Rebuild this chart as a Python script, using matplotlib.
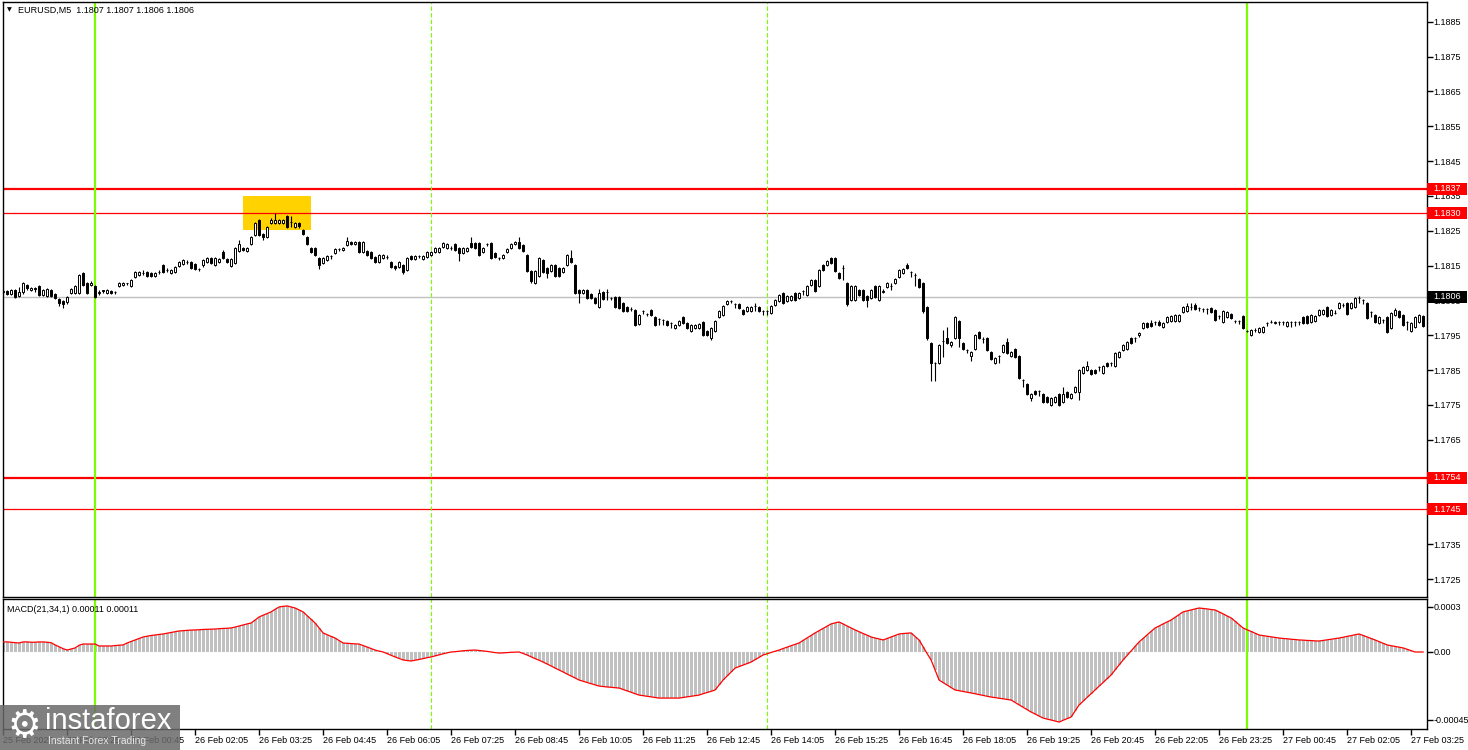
import numpy as np
import matplotlib.pyplot as plt
from matplotlib.patches import Rectangle
from matplotlib.transforms import blended_transform_factory

plt.rcParams['font.family'] = ['Liberation Sans', 'DejaVu Sans']

# EURUSD M5 candles, prices in points (1e-5) above 1.17000
base = 1.17
opens = [
    1074, 1077, 1068, 1080, 1062, 1074, 1094, 1080, 1085, 1091,
    1065, 1062, 1080, 1068, 1054, 1048, 1045, 1071, 1071, 1071,
    1129, 1100, 1094, 1091, 1071, 1080, 1071, 1077, 1074, 1091,
    1094, 1100, 1091, 1117, 1123, 1129, 1131, 1129, 1120, 1131,
    1152, 1137, 1129, 1131, 1149, 1155, 1160, 1160, 1155, 1140,
    1152, 1160, 1172, 1152, 1160, 1189, 1169, 1149, 1157, 1192,
    1200, 1192, 1212, 1238, 1281, 1241, 1232, 1272, 1272, 1272,
    1272, 1292, 1275, 1261, 1272, 1252, 1232, 1200, 1200, 1172,
    1157, 1166, 1177, 1186, 1198, 1195, 1209, 1218, 1212, 1218,
    1189, 1192, 1189, 1175, 1160, 1172, 1175, 1160, 1149, 1146,
    1152, 1137, 1177, 1169, 1177, 1169, 1175, 1180, 1189, 1189,
    1203, 1200, 1200, 1212, 1200, 1186, 1192, 1215, 1215, 1215,
    1189, 1212, 1215, 1186, 1172, 1172, 1189, 1200, 1212, 1218,
    1209, 1180, 1134, 1100, 1120, 1166, 1143, 1134, 1152, 1143,
    1131, 1152, 1172, 1152, 1080, 1071, 1080, 1068, 1057, 1031,
    1074, 1074, 1057, 1060, 1060, 1042, 1031, 1025, 1022, 982,
    1019, 1011, 1022, 1002, 997, 994, 991, 985, 971, 979,
    1002, 985, 962, 971, 971, 988, 962, 942, 962, 1002,
    1008, 1039, 1048, 1039, 1039, 1022, 1019, 1019, 1034, 1031,
    1019, 1019, 1014, 1037, 1048, 1071, 1048, 1051, 1071, 1057,
    1077, 1065, 1094, 1109, 1091, 1152, 1152, 1172, 1172, 1129,
    1143, 1100, 1051, 1051, 1080, 1080, 1062, 1057, 1091, 1051,
    1074, 1088, 1091, 1100, 1117, 1129, 1152, 1131, 1123, 1111,
    1100, 1031, 927, 870, 870, 933, 942, 922, 942, 991,
    927, 907, 890, 910, 959, 939, 942, 902, 870, 890,
    902, 930, 890, 910, 890, 821, 810, 769, 789, 789,
    781, 773, 749, 758, 781, 758, 787, 769, 787, 787,
    841, 850, 850, 850, 859, 841, 870, 870, 861, 887,
    907, 910, 942, 942, 951, 971, 985, 985, 988, 988,
    973, 988, 991, 991, 991, 1017, 1019, 1031, 1037, 1028,
    1025, 1025, 1028, 1022, 1005, 988, 1002, 1011, 991, 991,
    1005, 962, 951, 965, 959, 959, 985, 988, 985, 988,
    988, 976, 988, 988, 988, 1002, 1005, 988, 991, 1008,
    1011, 1031, 1008, 1014, 1028, 1037, 1042, 1028, 1031, 1057,
    1051, 1042, 1017, 1008, 985, 994, 1002, 971, 1008, 1019,
    1008, 988, 962, 973, 988, 1005,
]
closes = [
    1077, 1068, 1080, 1060, 1074, 1100, 1085, 1085, 1083, 1065,
    1080, 1083, 1062, 1057, 1042, 1040, 1060, 1083, 1091, 1123,
    1094, 1071, 1100, 1060, 1074, 1077, 1080, 1071, 1074, 1100,
    1100, 1100, 1109, 1131, 1131, 1129, 1120, 1120, 1129, 1131,
    1131, 1137, 1137, 1146, 1160, 1166, 1160, 1143, 1140, 1140,
    1166, 1172, 1157, 1172, 1169, 1172, 1160, 1169, 1200, 1212,
    1195, 1200, 1232, 1272, 1238, 1232, 1261, 1281, 1281, 1281,
    1281, 1261, 1275, 1272, 1264, 1241, 1212, 1189, 1180, 1152,
    1172, 1177, 1177, 1198, 1198, 1200, 1220, 1212, 1218, 1189,
    1218, 1180, 1172, 1160, 1180, 1180, 1175, 1146, 1143, 1160,
    1131, 1172, 1169, 1177, 1177, 1177, 1189, 1189, 1200, 1200,
    1215, 1212, 1200, 1195, 1186, 1200, 1200, 1203, 1200, 1180,
    1200, 1212, 1172, 1175, 1172, 1180, 1198, 1212, 1218, 1200,
    1192, 1134, 1106, 1134, 1172, 1131, 1129, 1152, 1120, 1120,
    1143, 1180, 1160, 1071, 1071, 1080, 1057, 1057, 1042, 1071,
    1054, 1074, 1057, 1031, 1028, 1019, 1019, 1025, 979, 1008,
    1019, 1011, 1008, 979, 997, 994, 979, 985, 979, 991,
    985, 971, 979, 979, 982, 951, 951, 971, 991, 1019,
    1034, 1048, 1048, 1039, 1028, 1011, 1031, 1031, 1034, 1019,
    1019, 1019, 1034, 1051, 1065, 1042, 1062, 1062, 1051, 1071,
    1077, 1091, 1109, 1077, 1137, 1137, 1163, 1157, 1134, 1114,
    1143, 1039, 1091, 1091, 1065, 1051, 1051, 1080, 1060, 1091,
    1077, 1100, 1091, 1111, 1137, 1140, 1143, 1131, 1123, 1088,
    1019, 942, 870, 870, 922, 933, 927, 930, 1002, 942,
    910, 907, 902, 951, 942, 939, 907, 882, 884, 890,
    922, 899, 902, 887, 827, 821, 781, 781, 781, 789,
    758, 758, 769, 773, 749, 781, 773, 781, 801, 850,
    859, 861, 838, 841, 859, 861, 861, 870, 899, 902,
    922, 930, 927, 942, 956, 985, 973, 976, 988, 979,
    985, 1002, 1005, 1008, 1008, 1031, 1034, 1031, 1025, 1028,
    1025, 1025, 1017, 994, 1005, 1019, 1017, 999, 991, 991,
    971, 962, 965, 965, 971, 973, 985, 988, 988, 988,
    988, 988, 988, 988, 988, 985, 985, 1008, 1005, 1022,
    1022, 1005, 1022, 1014, 1042, 1037, 1011, 1042, 1057, 1057,
    1051, 999, 1017, 988, 1002, 994, 959, 1014, 1022, 1002,
    979, 988, 985, 1002, 1008, 976,
]
highs = [
    1082, 1080, 1083, 1083, 1088, 1103, 1097, 1088, 1088, 1094,
    1083, 1086, 1083, 1071, 1057, 1051, 1063, 1086, 1094, 1126,
    1132, 1103, 1106, 1094, 1080, 1080, 1083, 1080, 1077, 1103,
    1103, 1100, 1112, 1134, 1134, 1137, 1134, 1131, 1131, 1137,
    1155, 1143, 1140, 1149, 1163, 1169, 1166, 1163, 1158, 1143,
    1169, 1175, 1175, 1175, 1172, 1195, 1172, 1172, 1203, 1224,
    1203, 1203, 1235, 1275, 1284, 1244, 1264, 1287, 1301, 1284,
    1284, 1295, 1292, 1275, 1275, 1255, 1235, 1203, 1203, 1175,
    1175, 1180, 1180, 1200, 1200, 1203, 1232, 1221, 1221, 1221,
    1221, 1195, 1192, 1178, 1183, 1183, 1180, 1163, 1152, 1163,
    1155, 1175, 1180, 1180, 1180, 1180, 1192, 1192, 1203, 1203,
    1218, 1215, 1206, 1215, 1203, 1203, 1203, 1232, 1218, 1218,
    1203, 1215, 1218, 1189, 1175, 1183, 1200, 1215, 1221, 1232,
    1212, 1183, 1137, 1137, 1175, 1169, 1146, 1155, 1155, 1146,
    1146, 1183, 1195, 1155, 1083, 1083, 1083, 1071, 1060, 1083,
    1077, 1083, 1060, 1063, 1063, 1045, 1034, 1031, 1025, 1011,
    1022, 1014, 1025, 1005, 999, 997, 994, 988, 982, 994,
    1005, 988, 982, 982, 985, 991, 965, 974, 994, 1022,
    1037, 1051, 1051, 1042, 1042, 1025, 1034, 1034, 1042, 1034,
    1022, 1022, 1037, 1054, 1068, 1074, 1065, 1065, 1074, 1074,
    1080, 1094, 1112, 1112, 1140, 1155, 1166, 1175, 1175, 1131,
    1152, 1103, 1094, 1094, 1083, 1083, 1065, 1083, 1094, 1094,
    1083, 1103, 1100, 1114, 1140, 1143, 1157, 1134, 1129, 1114,
    1103, 1034, 930, 873, 925, 965, 974, 933, 1005, 994,
    930, 910, 905, 954, 962, 945, 945, 905, 887, 893,
    925, 942, 905, 913, 893, 824, 813, 784, 792, 792,
    784, 776, 772, 776, 784, 801, 790, 784, 804, 853,
    862, 876, 853, 853, 862, 864, 873, 873, 902, 905,
    925, 933, 945, 945, 959, 988, 988, 994, 991, 994,
    988, 1005, 1008, 1011, 1011, 1034, 1042, 1042, 1042, 1031,
    1028, 1028, 1031, 1025, 1008, 1022, 1020, 1014, 994, 994,
    1008, 965, 968, 971, 974, 976, 988, 994, 991, 991,
    991, 991, 991, 991, 991, 1005, 1008, 1011, 1008, 1025,
    1025, 1034, 1025, 1022, 1045, 1042, 1045, 1045, 1060, 1062,
    1054, 1045, 1020, 1011, 1005, 997, 1005, 1017, 1028, 1022,
    1011, 991, 988, 1005, 1011, 1008,
]
lows = [
    1068, 1065, 1065, 1057, 1060, 1068, 1080, 1077, 1074, 1062,
    1062, 1060, 1060, 1054, 1034, 1028, 1040, 1068, 1068, 1068,
    1091, 1068, 1091, 1057, 1065, 1071, 1068, 1068, 1068, 1088,
    1091, 1094, 1088, 1114, 1120, 1123, 1117, 1117, 1117, 1126,
    1129, 1131, 1126, 1129, 1146, 1152, 1155, 1140, 1137, 1134,
    1146, 1157, 1155, 1149, 1157, 1169, 1157, 1146, 1155, 1189,
    1192, 1189, 1209, 1235, 1235, 1223, 1229, 1269, 1269, 1269,
    1269, 1258, 1261, 1258, 1258, 1238, 1209, 1186, 1177, 1140,
    1155, 1163, 1169, 1183, 1192, 1192, 1206, 1209, 1209, 1186,
    1186, 1177, 1169, 1157, 1157, 1169, 1169, 1143, 1137, 1143,
    1126, 1134, 1166, 1166, 1172, 1166, 1172, 1177, 1186, 1186,
    1200, 1198, 1195, 1192, 1163, 1183, 1189, 1200, 1198, 1177,
    1186, 1206, 1169, 1172, 1166, 1169, 1186, 1198, 1209, 1198,
    1189, 1131, 1100, 1097, 1117, 1129, 1114, 1131, 1117, 1117,
    1129, 1149, 1157, 1068, 1042, 1068, 1054, 1054, 1040, 1028,
    1051, 1051, 1051, 1028, 1025, 1017, 1017, 1019, 976, 979,
    1011, 1005, 1005, 976, 979, 979, 976, 971, 968, 976,
    982, 968, 959, 968, 968, 948, 948, 936, 959, 999,
    1005, 1037, 1042, 1028, 1025, 1008, 1017, 1017, 1019, 1017,
    1008, 1008, 1011, 1034, 1045, 1039, 1045, 1048, 1048, 1054,
    1065, 1062, 1091, 1074, 1088, 1134, 1149, 1155, 1131, 1111,
    1109, 1034, 1048, 1048, 1062, 1048, 1031, 1054, 1057, 1048,
    1071, 1085, 1080, 1097, 1114, 1126, 1140, 1117, 1091, 1085,
    1014, 936, 818, 818, 867, 887, 924, 916, 939, 916,
    907, 899, 875, 907, 939, 927, 904, 879, 867, 870,
    899, 896, 887, 884, 824, 801, 778, 761, 778, 775,
    755, 755, 746, 755, 746, 755, 770, 766, 784, 764,
    838, 847, 835, 838, 847, 838, 858, 861, 858, 884,
    904, 907, 924, 930, 945, 968, 970, 973, 979, 976,
    970, 985, 988, 988, 988, 1014, 1017, 1022, 1022, 1019,
    1017, 1011, 1014, 991, 997, 985, 999, 997, 985, 982,
    968, 959, 948, 959, 956, 956, 976, 985, 982, 979,
    979, 973, 973, 976, 979, 982, 982, 985, 988, 1005,
    1008, 1002, 1005, 1011, 1025, 1031, 1008, 1025, 1028, 1042,
    1039, 997, 1002, 985, 982, 985, 956, 968, 1005, 999,
    976, 965, 959, 970, 985, 973,
]

# MACD(21,34,1) main line, in 1e-6
macd = [
    67, 67, 65, 62, 60, 67, 67, 65, 65, 67,
    67, 65, 62, 47, 35, 22, 13, 20, 27, 45,
    53, 53, 53, 53, 40, 40, 40, 40, 43, 45,
    47, 60, 70, 80, 90, 100, 105, 110, 113, 117,
    120, 125, 130, 135, 140, 142, 144, 146, 147, 148,
    150, 151, 152, 153, 155, 157, 158, 160, 166, 173,
    180, 187, 193, 213, 233, 245, 256, 267, 284, 300,
    304, 307, 300, 293, 280, 267, 242, 218, 193, 160,
    127, 115, 104, 93, 76, 60, 58, 56, 54, 53,
    43, 33, 23, 13, 6, 0, -11, -22, -33, -43,
    -53, -57, -60, -55, -50, -44, -38, -33, -26, -19,
    -12, -6, 0, 2, 5, 8, 10, 12, 13, 10,
    7, 4, 0, -4, -7, -6, -4, -2, -1, 0,
    -10, -20, -32, -44, -55, -67, -80, -93, -107, -120,
    -133, -147, -160, -173, -187, -195, -203, -211, -219, -227,
    -230, -233, -235, -238, -240, -250, -259, -268, -278, -287,
    -291, -295, -299, -303, -307, -307, -307, -307, -307, -307,
    -303, -299, -295, -291, -287, -278, -270, -262, -253, -220,
    -187, -160, -133, -107, -97, -87, -77, -67, -51, -36,
    -20, -12, -3, 5, 13, 23, 32, 42, 51, 60,
    77, 94, 110, 127, 142, 157, 172, 187, 194, 200,
    187, 173, 160, 147, 135, 123, 112, 100, 93, 87,
    80, 90, 100, 110, 120, 123, 125, 127, 103, 80,
    35, -10, -53, -120, -187, -204, -220, -237, -253, -258,
    -263, -268, -273, -278, -284, -289, -295, -300, -304, -308,
    -312, -316, -320, -336, -352, -368, -384, -400, -413, -427,
    -440, -447, -453, -460, -467, -455, -444, -433, -393, -353,
    -328, -303, -278, -253, -228, -203, -178, -153, -120, -87,
    -53, -23, 7, 37, 67, 90, 114, 137, 160, 173,
    187, 200, 213, 231, 249, 267, 274, 280, 287, 293,
    290, 287, 283, 280, 267, 254, 240, 227, 205, 182,
    160, 148, 137, 125, 113, 109, 105, 101, 97, 93,
    90, 88, 85, 83, 80, 79, 77, 76, 74, 73,
    77, 81, 85, 89, 93, 98, 104, 109, 115, 120,
    110, 100, 90, 80, 69, 58, 47, 42, 37, 32,
    27, 18, 9, 0, 0, 0,
]

time_labels = ['25 Feb 2026', '25 Feb 23:25', '26 Feb 00:45', '26 Feb 02:05',
               '26 Feb 03:25', '26 Feb 04:45', '26 Feb 06:05', '26 Feb 07:25',
               '26 Feb 08:45', '26 Feb 10:05', '26 Feb 11:25', '26 Feb 12:45',
               '26 Feb 14:05', '26 Feb 15:25', '26 Feb 16:45', '26 Feb 18:05',
               '26 Feb 19:25', '26 Feb 20:45', '26 Feb 22:05', '26 Feb 23:25',
               '27 Feb 00:45', '27 Feb 02:05', '27 Feb 03:25']
day_bars = [23, 311]        # 26 Feb 00:00 and 27 Feb 00:00
session_bars = [107, 191]   # 07:00 and 14:00
thick_levels = [1.1837, 1.1754]
thin_levels = [1.1830, 1.1745]
bid = 1.1806
signal_bars = [60, 77]
signal_prices = [1.18252, 1.18350]

n = len(closes)
assert len(opens) == n and len(highs) == n and len(lows) == n and len(macd) == n, \
    (len(opens), len(closes), len(highs), len(lows), len(macd))

o = base + np.array(opens) / 1e5
c = base + np.array(closes) / 1e5
h = base + np.array(highs) / 1e5
l = base + np.array(lows) / 1e5
m = np.array(macd) / 1e6
x = np.arange(n)

W, H = 1468, 750
fig = plt.figure(figsize=(W / 100, H / 100), dpi=100)


def px_axes(left, top, right, bottom):
    return fig.add_axes([left / W, 1 - bottom / H, (right - left) / W, (bottom - top) / H])


ax = px_axes(2.7, 1.7, 1426.7, 596.7)
axm = px_axes(2.7, 599.3, 1426.7, 729.3)

ylo, yhi = 1.171992, 1.189074
for a in (ax, axm):
    a.set_xlim(-0.1, 355.9)
    for s in a.spines.values():
        s.set_linewidth(1)
        s.set_color('black')
ax.set_ylim(ylo, yhi)
axm.set_ylim(-0.000515, 0.000351)

# levels and markers
ax.add_patch(Rectangle((signal_bars[0], signal_prices[0]), signal_bars[1] - signal_bars[0],
                       signal_prices[1] - signal_prices[0], facecolor='#ffd200',
                       edgecolor='none', zorder=1))
ax.axhline(bid, color='#c0c0c0', lw=1, zorder=1.5)
for lv in thick_levels:
    ax.axhline(lv, color='red', lw=1.6, zorder=2)
for lv in thin_levels:
    ax.axhline(lv, color='red', lw=0.9, zorder=2)
for a in (ax, axm):
    for b in day_bars:
        a.axvline(b, color='#7cfc00', lw=1.6, zorder=2)
    for b in session_bars:
        a.axvline(b, color='#7cfc00', lw=0.8, ls=(0, (4, 2)), zorder=2)

# candles
ax.vlines(x, l, h, color='black', lw=0.8, zorder=3)
up = c >= o
ax.bar(x[up], (c - o)[up], bottom=o[up], width=0.55, facecolor='white',
       edgecolor='black', linewidth=0.7, zorder=4)
ax.bar(x[~up], (c - o)[~up], bottom=o[~up], width=0.55, facecolor='black',
       edgecolor='black', linewidth=0.7, zorder=4)

# MACD panel
axm.bar(x, m, width=0.75, color='#c0c0c0', zorder=1)
axm.plot(x, m, color='red', lw=0.9, zorder=3)

# axes ticks
ax.set_xticks([])
ax.yaxis.tick_right()
pticks = np.arange(1.1725, 1.18851, 0.001)
ax.set_yticks(pticks)
ax.set_yticklabels([f'{v:.4f}' for v in pticks])
ax.tick_params(axis='y', direction='out', length=4, width=1, labelsize=6.5, pad=1)

axm.yaxis.tick_right()
axm.set_yticks([0.0003, 0.0, -0.00045])
axm.set_yticklabels(['0.0003', '0.00', '-0.00045'])
axm.tick_params(axis='y', direction='out', length=4, width=1, labelsize=6.5, pad=1)
axm.set_xticks(np.arange(0, n, 16))
axm.set_xticklabels(time_labels, ha='left')
axm.tick_params(axis='x', direction='out', length=4, width=1, labelsize=6.5, pad=1)

# price boxes on the right scale
trans = blended_transform_factory(fig.transFigure, ax.transData)
hh = 6 * (yhi - ylo) / 595
for lv, col in [(thick_levels[0], 'red'), (thin_levels[0], 'red'), (bid, 'black'),
                (thick_levels[1], 'red'), (thin_levels[1], 'red')]:
    ax.add_patch(Rectangle((1427 / W, lv - hh), 40 / W, 2 * hh, transform=trans,
                           facecolor=col, edgecolor='none', clip_on=False, zorder=6))
    ax.text(1433 / W, lv, f'{lv:.4f}', transform=trans, color='white', fontsize=6.5,
            va='center', ha='left', zorder=7, clip_on=False)

# header texts
fig.text(7 / W, 1 - 10 / H, '▼', fontsize=4.5, va='center', ha='left',
         family=['DejaVu Sans'])
fig.text(18 / W, 1 - 10 / H, 'EURUSD,M5  1.1807 1.1807 1.1806 1.1806',
         fontsize=6.5, va='center', ha='left')
fig.text(7 / W, 1 - 609 / H, 'MACD(21,34,1) 0.00011 0.00011',
         fontsize=6.5, va='center', ha='left')

# watermark
fig.add_artist(Rectangle((0, 0), 180 / W, 45 / H, transform=fig.transFigure,
                         facecolor='#6a6a6a', alpha=0.85, edgecolor='none', zorder=10))
fig.text(24 / W, 1 - 727 / H, '⚙', fontsize=27, color='white', va='center',
         ha='center', family=['DejaVu Sans'], zorder=11)
fig.text(45 / W, 1 - 721 / H, 'instaforex', fontsize=21, color='white',
         va='center', ha='left', zorder=11)
fig.text(48 / W, 1 - 741 / H, 'Instant Forex Trading', fontsize=7.5,
         color='#e6e6e6', va='center', ha='left', zorder=11)

fig.savefig('out.png', dpi=100)
